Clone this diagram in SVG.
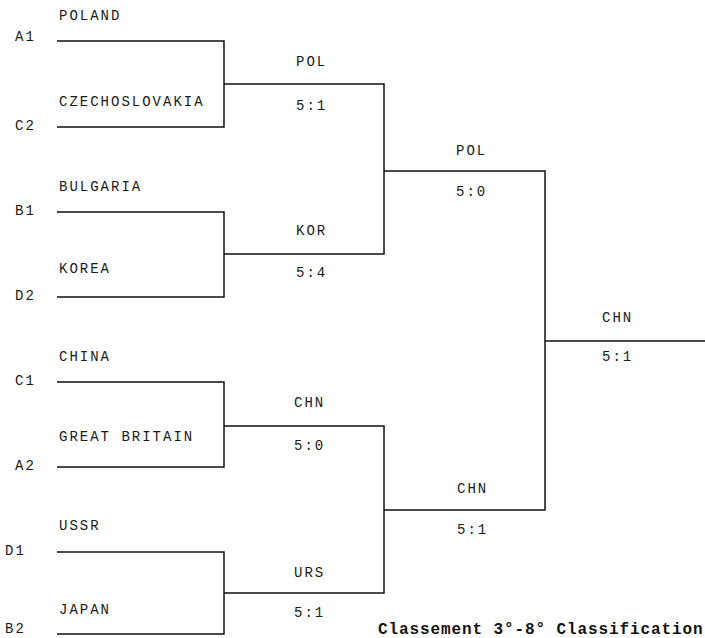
<svg xmlns="http://www.w3.org/2000/svg" width="705" height="638" viewBox="0 0 705 638">
<style>
.t{font-family:"Liberation Mono","Courier New",monospace;font-size:14px;letter-spacing:2px;fill:#1a1a1a}
.ln{fill:none;stroke:#111;stroke-width:1.5}
.ttl{font-family:"Liberation Mono","Courier New",monospace;font-size:16px;font-weight:bold;letter-spacing:0.9px;fill:#111}
</style>
<rect width="705" height="638" fill="#fff"/>
<g id="connectors">
<path class="ln" d="M57 41H224V127H57"/>
<path class="ln" d="M57 212H224V297H57"/>
<path class="ln" d="M57 382H224V467H57"/>
<path class="ln" d="M57 552H224V634H57"/>
<path class="ln" d="M224 84H384V254H224"/>
<path class="ln" d="M224 426H384V593H224"/>
<path class="ln" d="M384 171H545V510H384"/>
<path class="ln" d="M545 341H705"/>
</g>
<g id="seeds">
<text class="t" x="15" y="41">A1</text>
<text class="t" x="15" y="130">C2</text>
<text class="t" x="15" y="215">B1</text>
<text class="t" x="15" y="300">D2</text>
<text class="t" x="15" y="385">C1</text>
<text class="t" x="15" y="470">A2</text>
<text class="t" x="5" y="555">D1</text>
<text class="t" x="5" y="633">B2</text>
</g>
<g id="r1-poland"><text class="t" x="59" y="20">POLAND</text></g>
<g id="r1-czechoslovakia"><text class="t" x="59" y="106">CZECHOSLOVAKIA</text></g>
<g id="r1-bulgaria"><text class="t" x="59" y="191">BULGARIA</text></g>
<g id="r1-korea"><text class="t" x="59" y="273">KOREA</text></g>
<g id="r1-china"><text class="t" x="59" y="361">CHINA</text></g>
<g id="r1-gb"><text class="t" x="59" y="441">GREAT BRITAIN</text></g>
<g id="r1-ussr"><text class="t" x="59" y="530">USSR</text></g>
<g id="r1-japan"><text class="t" x="59" y="614">JAPAN</text></g>
<g id="r2-pol"><text class="t" x="296" y="66">POL</text><text class="t" x="296" y="110">5:1</text></g>
<g id="r2-kor"><text class="t" x="296" y="235">KOR</text><text class="t" x="296" y="277">5:4</text></g>
<g id="r2-chn"><text class="t" x="294" y="407">CHN</text><text class="t" x="294" y="450">5:0</text></g>
<g id="r2-urs"><text class="t" x="294" y="577">URS</text><text class="t" x="294" y="617">5:1</text></g>
<g id="r3-pol"><text class="t" x="456" y="155">POL</text><text class="t" x="456" y="196">5:0</text></g>
<g id="r3-chn"><text class="t" x="457" y="493">CHN</text><text class="t" x="457" y="534">5:1</text></g>
<g id="final-chn"><text class="t" x="602" y="322">CHN</text><text class="t" x="602" y="361">5:1</text></g>
<g id="title"><text class="ttl" x="378" y="634">Classement 3°-8° Classification</text></g>
</svg>
